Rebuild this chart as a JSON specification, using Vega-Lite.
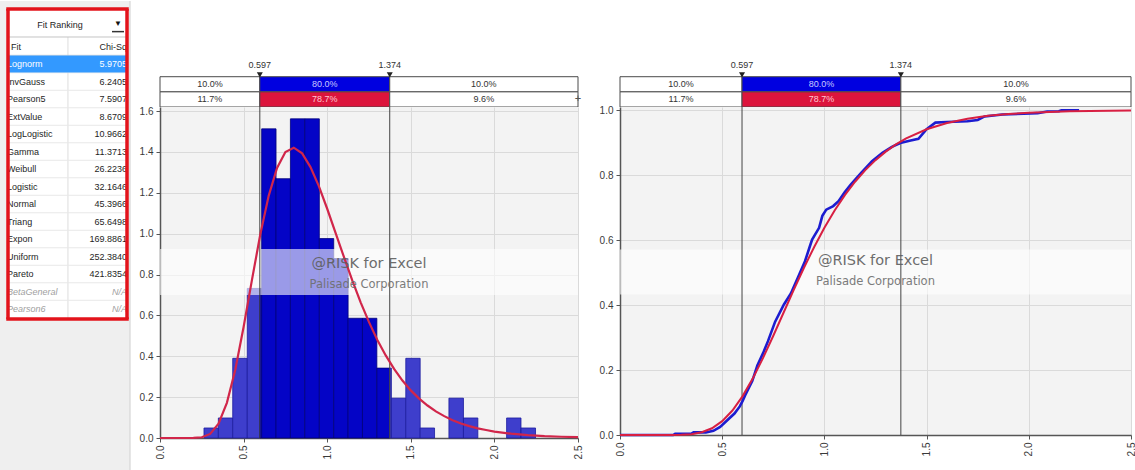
{
  "$schema": "https://vega.github.io/schema/vega-lite/v6.json",
  "padding": 0,
  "background": "#ffffff",
  "bounds": "flush",
  "align": "each",
  "columns": 3,
  "spacing": {"row": 0, "column": 42},
  "datasets": {
    "fits": [
      {"rank": 1, "fit": "Lognorm", "chisq": "5.9705", "ok": true},
      {"rank": 2, "fit": "InvGauss", "chisq": "6.2405", "ok": true},
      {"rank": 3, "fit": "Pearson5", "chisq": "7.5907", "ok": true},
      {"rank": 4, "fit": "ExtValue", "chisq": "8.6709", "ok": true},
      {"rank": 5, "fit": "LogLogistic", "chisq": "10.9662", "ok": true},
      {"rank": 6, "fit": "Gamma", "chisq": "11.3713", "ok": true},
      {"rank": 7, "fit": "Weibull", "chisq": "26.2236", "ok": true},
      {"rank": 8, "fit": "Logistic", "chisq": "32.1646", "ok": true},
      {"rank": 9, "fit": "Normal", "chisq": "45.3966", "ok": true},
      {"rank": 10, "fit": "Triang", "chisq": "65.6498", "ok": true},
      {"rank": 11, "fit": "Expon", "chisq": "169.8861", "ok": true},
      {"rank": 12, "fit": "Uniform", "chisq": "252.3840", "ok": true},
      {"rank": 13, "fit": "Pareto", "chisq": "421.8354", "ok": true},
      {"rank": 14, "fit": "BetaGeneral", "chisq": "N/A", "ok": false},
      {"rank": 15, "fit": "Pearson6", "chisq": "N/A", "ok": false}
    ],
    "delim": [
      {"row": "input", "from": 0, "to": 0.597, "at": 0.2985, "pct": "10.0%", "kind": "side"},
      {"row": "input", "from": 0.597, "to": 1.374, "at": 0.9855, "pct": "80.0%", "kind": "inmid"},
      {"row": "input", "from": 1.374, "to": 2.5, "at": 1.937, "pct": "10.0%", "kind": "side"},
      {"row": "fit", "from": 0, "to": 0.597, "at": 0.2985, "pct": "11.7%", "kind": "side"},
      {"row": "fit", "from": 0.597, "to": 1.374, "at": 0.9855, "pct": "78.7%", "kind": "fitmid"},
      {"row": "fit", "from": 1.374, "to": 2.5, "at": 1.937, "pct": "9.6%", "kind": "side"}
    ],
    "cuts": [
      {"v": 0.597, "label": "0.597"},
      {"v": 1.374, "label": "1.374"}
    ],
    "hist": [
      {"from": 0.263, "to": 0.349, "density": 0.049, "zone": "out"},
      {"from": 0.349, "to": 0.435, "density": 0.098, "zone": "out"},
      {"from": 0.435, "to": 0.522, "density": 0.39, "zone": "out"},
      {"from": 0.522, "to": 0.597, "density": 0.732, "zone": "out"},
      {"from": 0.597, "to": 0.608, "density": 0.732, "zone": "in"},
      {"from": 0.608, "to": 0.694, "density": 1.513, "zone": "in"},
      {"from": 0.694, "to": 0.78, "density": 1.269, "zone": "in"},
      {"from": 0.78, "to": 0.866, "density": 1.562, "zone": "in"},
      {"from": 0.866, "to": 0.953, "density": 1.562, "zone": "in"},
      {"from": 0.953, "to": 1.039, "density": 0.976, "zone": "in"},
      {"from": 1.039, "to": 1.125, "density": 0.878, "zone": "in"},
      {"from": 1.125, "to": 1.211, "density": 0.586, "zone": "in"},
      {"from": 1.211, "to": 1.297, "density": 0.586, "zone": "in"},
      {"from": 1.297, "to": 1.374, "density": 0.342, "zone": "in"},
      {"from": 1.374, "to": 1.384, "density": 0.342, "zone": "out"},
      {"from": 1.384, "to": 1.47, "density": 0.195, "zone": "out"},
      {"from": 1.47, "to": 1.556, "density": 0.39, "zone": "out"},
      {"from": 1.556, "to": 1.642, "density": 0.049, "zone": "out"},
      {"from": 1.728, "to": 1.815, "density": 0.195, "zone": "out"},
      {"from": 1.815, "to": 1.901, "density": 0.098, "zone": "out"},
      {"from": 2.073, "to": 2.159, "density": 0.098, "zone": "out"},
      {"from": 2.159, "to": 2.246, "density": 0.049, "zone": "out"}
    ],
    "pdf": [
      {"x": 0, "y": 0}, {"x": 0.1, "y": 0}, {"x": 0.2, "y": 0.0003}, {"x": 0.25, "y": 0.0035},
      {"x": 0.3, "y": 0.02}, {"x": 0.35, "y": 0.07}, {"x": 0.4, "y": 0.172}, {"x": 0.45, "y": 0.333},
      {"x": 0.5, "y": 0.543}, {"x": 0.55, "y": 0.774}, {"x": 0.6, "y": 0.997}, {"x": 0.65, "y": 1.185},
      {"x": 0.7, "y": 1.322}, {"x": 0.75, "y": 1.4}, {"x": 0.8, "y": 1.421}, {"x": 0.85, "y": 1.393},
      {"x": 0.9, "y": 1.326}, {"x": 0.95, "y": 1.233}, {"x": 1.0, "y": 1.122}, {"x": 1.05, "y": 1.004},
      {"x": 1.1, "y": 0.886}, {"x": 1.15, "y": 0.771}, {"x": 1.2, "y": 0.664}, {"x": 1.25, "y": 0.567},
      {"x": 1.3, "y": 0.48}, {"x": 1.35, "y": 0.404}, {"x": 1.4, "y": 0.338}, {"x": 1.45, "y": 0.281},
      {"x": 1.5, "y": 0.233}, {"x": 1.55, "y": 0.193}, {"x": 1.6, "y": 0.159}, {"x": 1.65, "y": 0.13},
      {"x": 1.7, "y": 0.107}, {"x": 1.75, "y": 0.087}, {"x": 1.8, "y": 0.071}, {"x": 1.85, "y": 0.058},
      {"x": 1.9, "y": 0.047}, {"x": 1.95, "y": 0.039}, {"x": 2.0, "y": 0.031}, {"x": 2.1, "y": 0.021},
      {"x": 2.2, "y": 0.014}, {"x": 2.3, "y": 0.009}, {"x": 2.4, "y": 0.006}, {"x": 2.5, "y": 0.004}
    ],
    "cdf": [
      {"x": 0, "p": 0}, {"x": 0.2, "p": 0}, {"x": 0.25, "p": 0.0001}, {"x": 0.3, "p": 0.0006},
      {"x": 0.35, "p": 0.0026}, {"x": 0.4, "p": 0.0084}, {"x": 0.45, "p": 0.0208}, {"x": 0.5, "p": 0.0425},
      {"x": 0.55, "p": 0.0754}, {"x": 0.6, "p": 0.1198}, {"x": 0.65, "p": 0.1745}, {"x": 0.7, "p": 0.2374},
      {"x": 0.75, "p": 0.3057}, {"x": 0.8, "p": 0.3765}, {"x": 0.85, "p": 0.447}, {"x": 0.9, "p": 0.515},
      {"x": 0.95, "p": 0.5791}, {"x": 1.0, "p": 0.6381}, {"x": 1.05, "p": 0.6912}, {"x": 1.1, "p": 0.7385},
      {"x": 1.15, "p": 0.7799}, {"x": 1.2, "p": 0.8157}, {"x": 1.25, "p": 0.8464}, {"x": 1.3, "p": 0.8726},
      {"x": 1.35, "p": 0.8947}, {"x": 1.4, "p": 0.9132}, {"x": 1.5, "p": 0.9415}, {"x": 1.6, "p": 0.9608},
      {"x": 1.7, "p": 0.9739}, {"x": 1.8, "p": 0.9827}, {"x": 1.9, "p": 0.9885}, {"x": 2.0, "p": 0.9924},
      {"x": 2.2, "p": 0.9967}, {"x": 2.4, "p": 0.9985}, {"x": 2.5, "p": 0.999}
    ],
    "ecdf": [
      {"x": 0, "p": 0}, {"x": 0.26, "p": 0}, {"x": 0.27, "p": 0.004}, {"x": 0.35, "p": 0.004},
      {"x": 0.36, "p": 0.008}, {"x": 0.42, "p": 0.008}, {"x": 0.457, "p": 0.013}, {"x": 0.49, "p": 0.025},
      {"x": 0.526, "p": 0.046}, {"x": 0.56, "p": 0.066}, {"x": 0.586, "p": 0.088}, {"x": 0.6, "p": 0.105},
      {"x": 0.612, "p": 0.122}, {"x": 0.647, "p": 0.166}, {"x": 0.672, "p": 0.214}, {"x": 0.7, "p": 0.252},
      {"x": 0.724, "p": 0.289}, {"x": 0.759, "p": 0.349}, {"x": 0.802, "p": 0.402}, {"x": 0.836, "p": 0.436},
      {"x": 0.871, "p": 0.486}, {"x": 0.905, "p": 0.535}, {"x": 0.931, "p": 0.585}, {"x": 0.94, "p": 0.602},
      {"x": 0.974, "p": 0.638}, {"x": 0.99, "p": 0.675}, {"x": 1.009, "p": 0.694}, {"x": 1.043, "p": 0.705},
      {"x": 1.069, "p": 0.72}, {"x": 1.1, "p": 0.748}, {"x": 1.129, "p": 0.771}, {"x": 1.181, "p": 0.808},
      {"x": 1.233, "p": 0.843}, {"x": 1.284, "p": 0.869}, {"x": 1.33, "p": 0.887}, {"x": 1.371, "p": 0.899},
      {"x": 1.422, "p": 0.907}, {"x": 1.46, "p": 0.912}, {"x": 1.5, "p": 0.942}, {"x": 1.543, "p": 0.962},
      {"x": 1.6, "p": 0.964}, {"x": 1.7, "p": 0.966}, {"x": 1.75, "p": 0.97}, {"x": 1.784, "p": 0.981},
      {"x": 1.871, "p": 0.987}, {"x": 1.974, "p": 0.989}, {"x": 2.043, "p": 0.991}, {"x": 2.09, "p": 0.996},
      {"x": 2.147, "p": 0.997}, {"x": 2.16, "p": 1.0}, {"x": 2.246, "p": 1.0}
    ]
  },
  "concat": [
    {
      "width": 118, "height": 106,
      "data": {"name": "fits"},
      "layer": [
        {"data": {"values": [{}]}, "mark": {"type": "rect", "color": "#efefef"},
         "encoding": {
           "x": {"datum": 0, "type": "quantitative", "scale": {"domain": [0, 1], "nice": false, "zero": false}, "axis": null},
           "x2": {"datum": 1.102},
           "y": {"datum": -2.6, "type": "quantitative", "scale": {"domain": [-2.6, 3.457], "nice": false, "zero": false, "reverse": true}, "axis": null},
           "y2": {"datum": 3.457}}},
        {"data": {"values": [{}]}, "mark": {"type": "rule", "color": "#d0d0d0"},
         "encoding": {"x": {"datum": 1.102, "type": "quantitative"}, "y": {"datum": -2.6, "type": "quantitative"}, "y2": {"datum": 3.457}}},
        {"data": {"values": [{}]}, "mark": {"type": "rect", "color": "#ffffff"},
         "encoding": {"x": {"datum": 0.0678, "type": "quantitative"}, "x2": {"datum": 1.0763}, "y": {"datum": -2.143, "type": "quantitative"}, "y2": {"datum": 3.457}}},
        {"data": {"values": [{}]}, "mark": {"type": "rule", "color": "#dddddd"},
         "encoding": {"x": {"datum": 0.576, "type": "quantitative"}, "y": {"datum": -0.543, "type": "quantitative"}, "y2": {"datum": 3.457}}},
        {"data": {"values": [{}]}, "mark": {"type": "rule", "color": "#c4c4c4"},
         "encoding": {"x": {"datum": 0.0678, "type": "quantitative"}, "x2": {"datum": 1.0763}, "y": {"datum": -0.543, "type": "quantitative"}}},
        {"data": {"values": [{}]}, "mark": {"type": "rule", "color": "#d4d4d4"},
         "encoding": {"x": {"datum": 0.0678, "type": "quantitative"}, "x2": {"datum": 1.0763}, "y": {"datum": 0.5, "type": "quantitative"}}},
        {"transform": [{"filter": "datum.rank <= 2"}], "mark": {"type": "rule", "color": "#e8e8e8", "yOffset": 8.75},
         "encoding": {"x": {"datum": 0.0678, "type": "quantitative"}, "x2": {"datum": 1.0763}, "y": {"field": "rank", "type": "quantitative"}}},
        {"transform": [{"filter": "datum.rank == 1"}], "mark": {"type": "rule", "color": "#3399ff", "strokeWidth": 17},
         "encoding": {"x": {"datum": 0.0763, "type": "quantitative"}, "x2": {"datum": 1.0678}, "y": {"field": "rank", "type": "quantitative"}}},
        {"transform": [{"filter": "datum.rank <= 3"}], "mark": {"type": "text", "align": "left", "baseline": "middle", "fontSize": 9},
         "encoding": {"x": {"datum": 0.059, "type": "quantitative"}, "y": {"field": "rank", "type": "quantitative"}, "text": {"field": "fit"},
           "color": {"condition": {"test": "datum.rank == 1", "value": "#ffffff"}, "value": "#1e1e1e"}}},
        {"transform": [{"filter": "datum.rank <= 3"}], "mark": {"type": "text", "align": "right", "baseline": "middle", "fontSize": 9},
         "encoding": {"x": {"datum": 1.076, "type": "quantitative"}, "y": {"field": "rank", "type": "quantitative"}, "text": {"field": "chisq"},
           "color": {"condition": {"test": "datum.rank == 1", "value": "#ffffff"}, "value": "#1e1e1e"}}},
        {"data": {"values": [{}]}, "mark": {"type": "text", "text": "Fit Ranking", "fontSize": 9, "color": "#1e1e1e", "baseline": "middle"},
         "encoding": {"x": {"datum": 0.508, "type": "quantitative"}, "y": {"datum": -1.229, "type": "quantitative"}}},
        {"data": {"values": [{}]}, "mark": {"type": "text", "text": "▼", "fontSize": 8, "color": "#111111", "baseline": "middle"},
         "encoding": {"x": {"datum": 1.0, "type": "quantitative"}, "y": {"datum": -1.3, "type": "quantitative"}}},
        {"data": {"values": [{}]}, "mark": {"type": "rule", "color": "#333333", "strokeWidth": 1.5},
         "encoding": {"x": {"datum": 0.949, "type": "quantitative"}, "x2": {"datum": 1.051}, "y": {"datum": -0.85, "type": "quantitative"}}},
        {"data": {"values": [{}]}, "mark": {"type": "text", "text": "Fit", "fontSize": 9, "color": "#1e1e1e", "align": "left", "baseline": "middle"},
         "encoding": {"x": {"datum": 0.093, "type": "quantitative"}, "y": {"datum": 0, "type": "quantitative"}}},
        {"data": {"values": [{}]}, "mark": {"type": "text", "text": "Chi-Sq", "fontSize": 9, "color": "#1e1e1e", "align": "right", "baseline": "middle"},
         "encoding": {"x": {"datum": 1.076, "type": "quantitative"}, "y": {"datum": 0, "type": "quantitative"}}},
        {"data": {"values": [{}]}, "mark": {"type": "rule", "color": "#e3131b", "strokeWidth": 3.5, "strokeCap": "square"},
         "encoding": {"x": {"datum": 0.0678, "type": "quantitative"}, "x2": {"datum": 1.0763}, "y": {"datum": -2.143, "type": "quantitative"}}},
        {"data": {"values": [{}]}, "mark": {"type": "rule", "color": "#e3131b", "strokeWidth": 3.5},
         "encoding": {"x": {"datum": 0.0678, "type": "quantitative"}, "y": {"datum": -2.143, "type": "quantitative"}, "y2": {"datum": 3.457}}},
        {"data": {"values": [{}]}, "mark": {"type": "rule", "color": "#e3131b", "strokeWidth": 3.5},
         "encoding": {"x": {"datum": 1.0763, "type": "quantitative"}, "y": {"datum": -2.143, "type": "quantitative"}, "y2": {"datum": 3.457}}}
      ]
    },
    {
      "width": 418, "height": 106,
      "data": {"name": "delim"},
      "layer": [
        {"mark": {"type": "rect", "stroke": "#4a4a4a", "strokeWidth": 1},
         "encoding": {
           "x": {"field": "from", "type": "quantitative", "scale": {"domain": [0, 2.5], "nice": false, "zero": false}, "axis": null},
           "x2": {"field": "to"},
           "y": {"field": "row", "type": "ordinal", "scale": {"domain": ["s1", "s2", "s3", "s4", "lbl", "input", "fit"], "paddingInner": 0, "paddingOuter": 0}, "axis": null},
           "fill": {"condition": [{"test": "datum.kind === 'inmid'", "value": "#0000e0"}, {"test": "datum.kind === 'fitmid'", "value": "#dc143c"}], "value": "#ffffff"}}},
        {"mark": {"type": "text", "fontSize": 9, "baseline": "middle"},
         "encoding": {
           "x": {"field": "at", "type": "quantitative"},
           "y": {"field": "row", "type": "ordinal"},
           "text": {"field": "pct"},
           "color": {"condition": [{"test": "datum.kind === 'inmid'", "value": "#c8c8ff"}, {"test": "datum.kind === 'fitmid'", "value": "#ffc8d2"}], "value": "#333333"}}},
        {"data": {"name": "cuts"}, "mark": {"type": "text", "fontSize": 9, "color": "#333333", "baseline": "middle"},
         "encoding": {"x": {"field": "v", "type": "quantitative"}, "y": {"datum": "lbl", "type": "ordinal", "bandPosition": 0.25}, "text": {"field": "label"}}},
        {"data": {"name": "cuts"}, "mark": {"type": "point", "shape": "triangle-down", "size": 36, "filled": true, "color": "#222222", "opacity": 1},
         "encoding": {"x": {"field": "v", "type": "quantitative"}, "y": {"datum": "lbl", "type": "ordinal", "bandPosition": 0.88}}},
        {"data": {"values": [{}]}, "mark": {"type": "text", "text": "+", "fontSize": 11, "color": "#555555", "baseline": "middle"},
         "encoding": {"x": {"datum": 2.5, "type": "quantitative"}, "y": {"datum": "fit", "type": "ordinal"}}}
      ]
    },
    {
      "width": 511, "height": 106,
      "data": {"name": "delim"},
      "layer": [
        {"mark": {"type": "rect", "stroke": "#4a4a4a", "strokeWidth": 1},
         "encoding": {
           "x": {"field": "from", "type": "quantitative", "scale": {"domain": [0, 2.5], "nice": false, "zero": false}, "axis": null},
           "x2": {"field": "to"},
           "y": {"field": "row", "type": "ordinal", "scale": {"domain": ["s1", "s2", "s3", "s4", "lbl", "input", "fit"], "paddingInner": 0, "paddingOuter": 0}, "axis": null},
           "fill": {"condition": [{"test": "datum.kind === 'inmid'", "value": "#0000e0"}, {"test": "datum.kind === 'fitmid'", "value": "#dc143c"}], "value": "#ffffff"}}},
        {"mark": {"type": "text", "fontSize": 9, "baseline": "middle"},
         "encoding": {
           "x": {"field": "at", "type": "quantitative"},
           "y": {"field": "row", "type": "ordinal"},
           "text": {"field": "pct"},
           "color": {"condition": [{"test": "datum.kind === 'inmid'", "value": "#c8c8ff"}, {"test": "datum.kind === 'fitmid'", "value": "#ffc8d2"}], "value": "#333333"}}},
        {"data": {"name": "cuts"}, "mark": {"type": "text", "fontSize": 9, "color": "#333333", "baseline": "middle"},
         "encoding": {"x": {"field": "v", "type": "quantitative"}, "y": {"datum": "lbl", "type": "ordinal", "bandPosition": 0.25}, "text": {"field": "label"}}},
        {"data": {"name": "cuts"}, "mark": {"type": "point", "shape": "triangle-down", "size": 36, "filled": true, "color": "#222222", "opacity": 1},
         "encoding": {"x": {"field": "v", "type": "quantitative"}, "y": {"datum": "lbl", "type": "ordinal", "bandPosition": 0.88}}}
      ]
    },
    {
      "width": 118, "height": 364,
      "data": {"name": "fits"},
      "layer": [
        {"data": {"values": [{}]}, "mark": {"type": "rect", "color": "#efefef"},
         "encoding": {
           "x": {"datum": 0, "type": "quantitative", "scale": {"domain": [0, 1], "nice": false, "zero": false}, "axis": null},
           "x2": {"datum": 1.102},
           "y": {"datum": 3.457, "type": "quantitative", "scale": {"domain": [3.457, 24.257], "nice": false, "zero": false, "reverse": true}, "axis": null},
           "y2": {"datum": 24.257}}},
        {"data": {"values": [{}]}, "mark": {"type": "rule", "color": "#d0d0d0"},
         "encoding": {"x": {"datum": 1.102, "type": "quantitative"}, "y": {"datum": 3.457, "type": "quantitative"}, "y2": {"datum": 24.257}}},
        {"data": {"values": [{}]}, "mark": {"type": "rect", "color": "#ffffff"},
         "encoding": {"x": {"datum": 0.0678, "type": "quantitative"}, "x2": {"datum": 1.0763}, "y": {"datum": 3.457, "type": "quantitative"}, "y2": {"datum": 15.571}}},
        {"data": {"values": [{}]}, "mark": {"type": "rule", "color": "#dddddd"},
         "encoding": {"x": {"datum": 0.576, "type": "quantitative"}, "y": {"datum": 3.457, "type": "quantitative"}, "y2": {"datum": 15.571}}},
        {"transform": [{"filter": "datum.rank >= 3 && datum.rank <= 14"}], "mark": {"type": "rule", "color": "#e8e8e8", "yOffset": 8.75},
         "encoding": {"x": {"datum": 0.0678, "type": "quantitative"}, "x2": {"datum": 1.0763}, "y": {"field": "rank", "type": "quantitative"}}},
        {"transform": [{"filter": "datum.rank >= 4 && datum.ok"}], "mark": {"type": "text", "align": "left", "baseline": "middle", "fontSize": 9, "color": "#1e1e1e"},
         "encoding": {"x": {"datum": 0.059, "type": "quantitative"}, "y": {"field": "rank", "type": "quantitative"}, "text": {"field": "fit"}}},
        {"transform": [{"filter": "datum.rank >= 4 && datum.ok"}], "mark": {"type": "text", "align": "right", "baseline": "middle", "fontSize": 9, "color": "#1e1e1e"},
         "encoding": {"x": {"datum": 1.076, "type": "quantitative"}, "y": {"field": "rank", "type": "quantitative"}, "text": {"field": "chisq"}}},
        {"transform": [{"filter": "!datum.ok"}], "mark": {"type": "text", "align": "left", "baseline": "middle", "fontSize": 9, "fontStyle": "italic", "color": "#a0a0a0"},
         "encoding": {"x": {"datum": 0.059, "type": "quantitative"}, "y": {"field": "rank", "type": "quantitative"}, "text": {"field": "fit"}}},
        {"transform": [{"filter": "!datum.ok"}], "mark": {"type": "text", "align": "right", "baseline": "middle", "fontSize": 9, "fontStyle": "italic", "color": "#a0a0a0"},
         "encoding": {"x": {"datum": 1.076, "type": "quantitative"}, "y": {"field": "rank", "type": "quantitative"}, "text": {"field": "chisq"}}},
        {"data": {"values": [{}]}, "mark": {"type": "rule", "color": "#e3131b", "strokeWidth": 3.5, "strokeCap": "square"},
         "encoding": {"x": {"datum": 0.0678, "type": "quantitative"}, "x2": {"datum": 1.0763}, "y": {"datum": 15.571, "type": "quantitative"}}},
        {"data": {"values": [{}]}, "mark": {"type": "rule", "color": "#e3131b", "strokeWidth": 3.5},
         "encoding": {"x": {"datum": 0.0678, "type": "quantitative"}, "y": {"datum": 3.457, "type": "quantitative"}, "y2": {"datum": 15.571}}},
        {"data": {"values": [{}]}, "mark": {"type": "rule", "color": "#e3131b", "strokeWidth": 3.5},
         "encoding": {"x": {"datum": 1.0763, "type": "quantitative"}, "y": {"datum": 3.457, "type": "quantitative"}, "y2": {"datum": 15.571}}}
      ]
    },
    {
      "width": 418, "height": 331,
      "view": {"fill": "#f3f3f3", "stroke": null},
      "layer": [
        {"data": {"name": "hist"}, "mark": {"type": "rect", "strokeWidth": 0.8},
         "encoding": {
           "x": {"field": "from", "type": "quantitative", "scale": {"domain": [0, 2.5], "nice": false, "zero": false},
                 "axis": {"values": [0, 0.5, 1, 1.5, 2, 2.5], "format": ".1f", "labelAngle": 270, "labelFlush": false, "title": null, "grid": true}},
           "x2": {"field": "to"},
           "y": {"field": "density", "type": "quantitative", "scale": {"domain": [0, 1.62], "nice": false},
                 "axis": {"values": [0, 0.2, 0.4, 0.6, 0.8, 1, 1.2, 1.4, 1.6], "format": ".1f", "title": null, "grid": true}},
           "y2": {"datum": 0},
           "fill": {"condition": {"test": "datum.zone === 'in'", "value": "#0404c6"}, "value": "#3e3ecc"},
           "stroke": {"condition": {"test": "datum.zone === 'in'", "value": "#00007a"}, "value": "#1c1c9e"}}},
        {"data": {"values": [{}]}, "mark": {"type": "rect", "color": "#ffffff", "opacity": 0.6},
         "encoding": {"x": {"datum": 0, "type": "quantitative"}, "x2": {"datum": 2.5}, "y": {"datum": 0.7, "type": "quantitative"}, "y2": {"datum": 0.925}}},
        {"data": {"name": "cuts"}, "mark": {"type": "rule", "color": "#444444", "strokeWidth": 1},
         "encoding": {"x": {"field": "v", "type": "quantitative"}}},
        {"data": {"name": "pdf"}, "mark": {"type": "line", "color": "#d1264a", "strokeWidth": 2.2},
         "encoding": {"x": {"field": "x", "type": "quantitative"}, "y": {"field": "y", "type": "quantitative"}}},
        {"data": {"values": [{}]}, "mark": {"type": "text", "text": "@RISK for Excel", "font": "DejaVu Sans", "fontSize": 14.5, "color": "#5e5e5e", "opacity": 0.9, "baseline": "middle"},
         "encoding": {"x": {"datum": 1.25, "type": "quantitative"}, "y": {"datum": 0.851, "type": "quantitative"}}},
        {"data": {"values": [{}]}, "mark": {"type": "text", "text": "Palisade Corporation", "font": "DejaVu Sans", "fontSize": 11.5, "color": "#6e6e6e", "opacity": 0.9, "baseline": "middle"},
         "encoding": {"x": {"datum": 1.25, "type": "quantitative"}, "y": {"datum": 0.749, "type": "quantitative"}}}
      ]
    },
    {
      "width": 511, "height": 328,
      "view": {"fill": "#f3f3f3", "stroke": null},
      "layer": [
        {"data": {"values": [{}]}, "mark": {"type": "rect", "color": "#ffffff", "opacity": 0.6},
         "encoding": {
           "x": {"datum": 0, "type": "quantitative", "scale": {"domain": [0, 2.5], "nice": false, "zero": false},
                 "axis": {"values": [0, 0.5, 1, 1.5, 2, 2.5], "format": ".1f", "labelAngle": 270, "labelFlush": false, "title": null, "grid": true}},
           "x2": {"datum": 2.5},
           "y": {"datum": 0.433, "type": "quantitative", "scale": {"domain": [0, 1.01], "nice": false},
                 "axis": {"values": [0, 0.2, 0.4, 0.6, 0.8, 1.0], "format": ".1f", "title": null, "grid": true}},
           "y2": {"datum": 0.571}}},
        {"data": {"name": "cuts"}, "mark": {"type": "rule", "color": "#444444", "strokeWidth": 1},
         "encoding": {"x": {"field": "v", "type": "quantitative"}}},
        {"data": {"name": "ecdf"}, "mark": {"type": "line", "color": "#1c1cd0", "strokeWidth": 2.6},
         "encoding": {"x": {"field": "x", "type": "quantitative"}, "y": {"field": "p", "type": "quantitative"}}},
        {"data": {"name": "cdf"}, "mark": {"type": "line", "color": "#d81f42", "strokeWidth": 2},
         "encoding": {"x": {"field": "x", "type": "quantitative"}, "y": {"field": "p", "type": "quantitative"}}},
        {"data": {"values": [{}]}, "mark": {"type": "text", "text": "@RISK for Excel", "font": "DejaVu Sans", "fontSize": 14.5, "color": "#5e5e5e", "opacity": 0.9, "baseline": "middle"},
         "encoding": {"x": {"datum": 1.25, "type": "quantitative"}, "y": {"datum": 0.535, "type": "quantitative"}}},
        {"data": {"values": [{}]}, "mark": {"type": "text", "text": "Palisade Corporation", "font": "DejaVu Sans", "fontSize": 11.5, "color": "#6e6e6e", "opacity": 0.9, "baseline": "middle"},
         "encoding": {"x": {"datum": 1.25, "type": "quantitative"}, "y": {"datum": 0.471, "type": "quantitative"}}}
      ]
    }
  ],
  "config": {
    "font": "Liberation Sans",
    "view": {"stroke": null},
    "text": {"font": "Liberation Sans"},
    "axis": {
      "labelFont": "Liberation Sans",
      "labelFontSize": 10,
      "labelColor": "#3a3a3a",
      "domainColor": "#555555",
      "domainWidth": 1.5,
      "tickColor": "#555555",
      "tickSize": 4,
      "labelPadding": 3,
      "gridColor": "#dadada",
      "gridWidth": 1
    }
  }
}
